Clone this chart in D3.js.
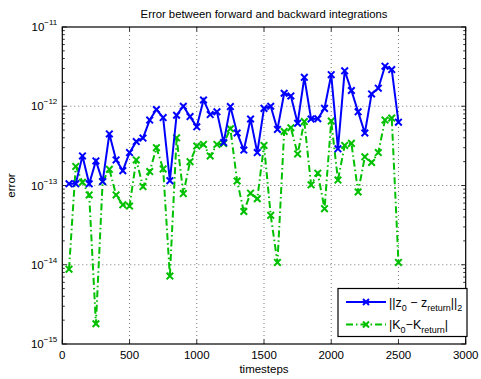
<!DOCTYPE html>
<html>
<head>
<meta charset="utf-8">
<script src="https://cdn.jsdelivr.net/npm/d3@7"></script>
<style>
  body { margin: 0; background: #fff; }
  text { font-family: "Liberation Sans", Arial, Helvetica, sans-serif; }
</style>
</head>
<body>
<div id="chart"></div>
<script>
// timesteps 50..2500 every 50
const steps = [50, 100, 150, 200, 250, 300, 350, 400, 450, 500,
  550, 600, 650, 700, 750, 800, 850, 900, 950, 1000,
  1050, 1100, 1150, 1200, 1250, 1300, 1350, 1400, 1450, 1500,
  1550, 1600, 1650, 1700, 1750, 1800, 1850, 1900, 1950, 2000,
  2050, 2100, 2150, 2200, 2250, 2300, 2350, 2400, 2450, 2500];

const zErr = [1.05e-13, 1.05e-13, 2.36e-13, 1.05e-13, 2.04e-13, 1.12e-13, 4.47e-13, 2.1e-13, 1.54e-13, 2.6e-13,
  3.58e-13, 3.97e-13, 6.7e-13, 9.1e-13, 7.2e-13, 1.15e-13, 7.7e-13, 1.0e-12, 7.4e-13, 5.5e-13,
  1.2e-12, 7.85e-13, 8.5e-13, 3.48e-13, 9.9e-13, 4.6e-13, 2.8e-13, 6.9e-13, 2.6e-13, 9.4e-13,
  1.0e-12, 5.1e-13, 1.46e-12, 1.35e-12, 6.1e-13, 2.32e-12, 6.9e-13, 6.95e-13, 9.4e-13, 2.5e-12,
  2.9e-13, 2.8e-12, 1.58e-12, 8.5e-13, 4.6e-13, 1.43e-12, 1.69e-12, 3.2e-12, 2.9e-12, 6.3e-13];

const kErr = [8.8e-15, 1.74e-13, 1.1e-13, 7.6e-14, 1.8e-15, 1.12e-13, 1.6e-13, 7.6e-14, 5.7e-14, 5.5e-14,
  2.1e-13, 9.7e-14, 1.5e-13, 3.0e-13, 1.62e-13, 7.2e-15, 4.0e-13, 7.9e-14, 2.0e-13, 3.15e-13,
  3.3e-13, 2.36e-13, 3.3e-13, 3.4e-13, 5.2e-13, 1.14e-13, 4.7e-14, 8.0e-14, 6.8e-14, 3.2e-13,
  4.2e-14, 1.07e-14, 4.8e-13, 5.35e-13, 2.5e-13, 6.4e-13, 1.02e-13, 1.43e-13, 5.1e-14, 6.5e-13,
  1.17e-13, 3.2e-13, 3.4e-13, 8.3e-14, 2.3e-13, 1.95e-13, 2.6e-13, 6.7e-13, 7.1e-13, 1.07e-14];

const xTicks = [0, 500, 1000, 1500, 2000, 2500, 3000];
const yExps = [-15, -14, -13, -12, -11];

const W = 481, H = 379;
const margin = { top: 27, right: 15.3, bottom: 35, left: 62.3 };
const width = W - margin.left - margin.right;
const height = H - margin.top - margin.bottom;

const svg = d3.select('#chart')
  .append('svg')
    .attr('width', W)
    .attr('height', H);

const g = svg.append('g')
  .attr('transform', `translate(${margin.left},${margin.top})`);

const x = d3.scaleLinear().domain([0, 3000]).range([0, width]);
const y = d3.scaleLog().domain([1e-15, 1e-11]).range([height, 0]);

// grid lines (dotted)
g.append('g')
  .selectAll('line')
  .data(xTicks.slice(1, -1))
  .join('line')
    .attr('x1', d => x(d)).attr('x2', d => x(d))
    .attr('y1', 0).attr('y2', height)
    .attr('stroke', '#555').attr('stroke-width', 0.8)
    .attr('stroke-dasharray', '1,3');

g.append('g')
  .selectAll('line')
  .data(yExps.slice(1, -1))
  .join('line')
    .attr('x1', 0).attr('x2', width)
    .attr('y1', d => y(Math.pow(10, d))).attr('y2', d => y(Math.pow(10, d)))
    .attr('stroke', '#555').attr('stroke-width', 0.8)
    .attr('stroke-dasharray', '1,3');

// minor ticks for log axis (inward, both sides)
const minor = [];
yExps.slice(0, -1).forEach(e => {
  for (let m = 2; m <= 9; m++) minor.push(m * Math.pow(10, e));
});
[0, width].forEach((x0, i) => {
  const dir = i === 0 ? 1 : -1;
  g.append('g')
    .selectAll('line')
    .data(minor)
    .join('line')
      .attr('x1', x0).attr('x2', x0 + dir * 2.5)
      .attr('y1', d => y(d)).attr('y2', d => y(d))
      .attr('stroke', '#000').attr('stroke-width', 0.8);
  g.append('g')
    .selectAll('line')
    .data(yExps)
    .join('line')
      .attr('x1', x0).attr('x2', x0 + dir * 4.5)
      .attr('y1', d => y(Math.pow(10, d))).attr('y2', d => y(Math.pow(10, d)))
      .attr('stroke', '#000').attr('stroke-width', 0.8);
});

// x major ticks (inward, bottom and top)
[height, 0].forEach((y0, i) => {
  const dir = i === 0 ? -1 : 1;
  g.append('g')
    .selectAll('line')
    .data(xTicks)
    .join('line')
      .attr('x1', d => x(d)).attr('x2', d => x(d))
      .attr('y1', y0).attr('y2', y0 + dir * 4.5)
      .attr('stroke', '#000').attr('stroke-width', 0.8);
});

// frame
g.append('rect')
  .attr('width', width).attr('height', height)
  .attr('fill', 'none').attr('stroke', '#000').attr('stroke-width', 1.2);

// x tick labels
g.append('g')
  .selectAll('text')
  .data(xTicks)
  .join('text')
    .attr('x', d => x(d))
    .attr('y', height + 15)
    .attr('text-anchor', 'middle')
    .attr('font-size', '11.5px')
    .text(d => d);

// y tick labels 10^n
const yl = g.append('g')
  .selectAll('text')
  .data(yExps)
  .join('text')
    .attr('x', -5)
    .attr('y', d => y(Math.pow(10, d)) + 4)
    .attr('text-anchor', 'end')
    .attr('font-size', '11.5px');
yl.append('tspan').text('10');
yl.append('tspan')
  .attr('dy', -6)
  .attr('font-size', '8px')
  .text(d => '\u2212' + Math.abs(d));

// axis titles
svg.append('text')
  .attr('x', margin.left + width / 2)
  .attr('y', H - 6)
  .attr('text-anchor', 'middle')
  .attr('font-size', '11.5px')
  .text('timesteps');

svg.append('text')
  .attr('transform', `translate(15,${margin.top + height / 2}) rotate(-90)`)
  .attr('text-anchor', 'middle')
  .attr('font-size', '11.5px')
  .text('error');

svg.append('text')
  .attr('x', margin.left + width / 2)
  .attr('y', 18)
  .attr('text-anchor', 'middle')
  .attr('font-size', '11.3px')
  .text('Error between forward and backward integrations');

// series
const blue = '#0000ff', green = '#00c000';
const series = [
  { vals: zErr, color: blue, dash: null },
  { vals: kErr, color: green, dash: '7,3,1.5,3' }
];

const line = d3.line()
  .x((d, i) => x(steps[i]))
  .y(d => y(d));

const xMark = (cx, cy, r) =>
  `M${cx - r},${cy - r}L${cx + r},${cy + r}M${cx - r},${cy + r}L${cx + r},${cy - r}`;

series.slice().reverse().forEach(s => {
  g.append('path')
    .datum(s.vals)
    .attr('d', line)
    .attr('fill', 'none')
    .attr('stroke', s.color)
    .attr('stroke-width', 2)
    .attr('stroke-dasharray', s.dash);
  g.append('g')
    .selectAll('path')
    .data(s.vals)
    .join('path')
      .attr('d', (d, i) => xMark(x(steps[i]), y(d), 3.3))
      .attr('stroke', s.color)
      .attr('stroke-width', 2)
      .attr('fill', 'none');
});

// legend
const lg = svg.append('g').attr('transform', 'translate(338,288.5)');
lg.append('rect')
  .attr('width', 129).attr('height', 48)
  .attr('fill', '#fff').attr('stroke', '#000').attr('stroke-width', 1.2);

const rows = [
  { s: series[0], y: 13.5 },
  { s: series[1], y: 36 }
];
rows.forEach(r => {
  lg.append('line')
    .attr('x1', 8).attr('x2', 48)
    .attr('y1', r.y).attr('y2', r.y)
    .attr('stroke', r.s.color).attr('stroke-width', 2)
    .attr('stroke-dasharray', r.s.dash);
  lg.append('path')
    .attr('d', xMark(28, r.y, 3))
    .attr('stroke', r.s.color).attr('stroke-width', 2).attr('fill', 'none');
});

const t1 = lg.append('text').attr('x', 51).attr('y', 18).attr('font-size', '12.5px');
t1.append('tspan').text('||z');
t1.append('tspan').attr('font-size', '9px').attr('dy', 4).text('0');
t1.append('tspan').attr('dy', -4).text(' \u2212 z');
t1.append('tspan').attr('font-size', '9px').attr('dy', 4).text('return');
t1.append('tspan').attr('dy', -4).text('||');
t1.append('tspan').attr('font-size', '9px').attr('dy', 4).text('2');

const t2 = lg.append('text').attr('x', 51).attr('y', 40).attr('font-size', '12.5px');
t2.append('tspan').text('|K');
t2.append('tspan').attr('font-size', '9px').attr('dy', 4).text('0');
t2.append('tspan').attr('dy', -4).text('\u2212K');
t2.append('tspan').attr('font-size', '9px').attr('dy', 4).text('return');
t2.append('tspan').attr('dy', -4).text('|');
</script>
</body>
</html>
